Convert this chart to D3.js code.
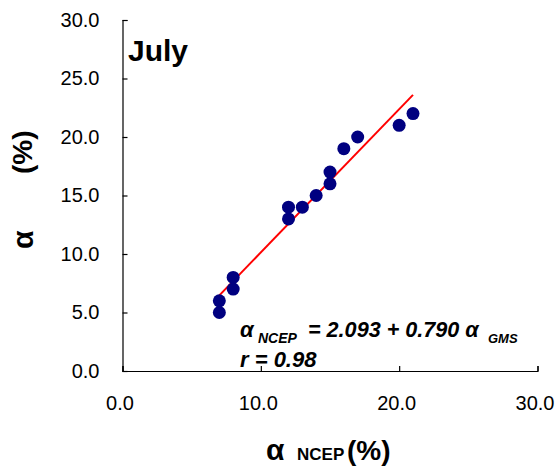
<!DOCTYPE html>
<html>
<head>
<meta charset="utf-8">
<script src="https://cdn.jsdelivr.net/npm/d3@7/dist/d3.min.js"></script>
<style>
  html, body { margin: 0; padding: 0; background: #fff; }
  svg { display: block; font-family: "Liberation Sans", Arial, sans-serif; }
</style>
</head>
<body>
<svg id="chart" width="558" height="470"></svg>
<script>
// Data (alpha GMS on x, alpha NCEP on y, %)
const xValues = [7, 7, 8, 8, 12, 12, 13, 14, 15, 15, 16, 17, 20, 21];
const yValues = [6, 5, 8, 7, 14, 13, 14, 15, 17, 16, 19, 20, 21, 22];
const tickValues = [0, 10, 20, 30];
const yTickValues = [0, 5, 10, 15, 20, 25, 30];
const monthLabel = "July";
const equationLabel = ["= 2.093 + 0.790 α"];
const rLabel = "r = 0.98";

const svg = d3.select("#chart");
const x = d3.scaleLinear().domain([0, 30]).range([122.5, 537.5]);
const y = d3.scaleLinear().domain([0, 30]).range([371, 20]);

// Axes
const xAxis = d3.axisBottom(x).tickValues(tickValues).tickSizeInner(-5).tickSizeOuter(-5).tickFormat(d3.format(".1f"));
const yAxis = d3.axisLeft(y).tickValues(yTickValues).tickSizeInner(-5).tickSizeOuter(-5).tickFormat(d3.format(".1f"));

const gx = svg.append("g").attr("transform", `translate(0,${y(0)})`).call(xAxis);
gx.select(".domain").attr("stroke", "#000").attr("stroke-width", 1.2);
gx.selectAll(".tick line").attr("stroke", "#000").attr("stroke-width", 1.2);
gx.selectAll(".tick text").attr("font-size", 20).attr("fill", "#000")
  .attr("font-family", "Liberation Sans, Arial, sans-serif")
  .attr("y", 25).attr("dy", "0.71em").attr("dx", -3);

const gy = svg.append("g").attr("transform", `translate(${x(0)},0)`).call(yAxis);
gy.select(".domain").attr("stroke", "#000").attr("stroke-width", 1.2);
gy.selectAll(".tick line").attr("stroke", "#000").attr("stroke-width", 1.2);
gy.selectAll(".tick text").attr("font-size", 20).attr("fill", "#000")
  .attr("font-family", "Liberation Sans, Arial, sans-serif")
  .attr("x", -23).attr("dy", "0.3em");

// Least squares fit of y on x
const n = xValues.length;
const mx = d3.mean(xValues), my = d3.mean(yValues);
let sxy = 0, sxx = 0;
for (let i = 0; i < n; i++) { sxy += (xValues[i] - mx) * (yValues[i] - my); sxx += (xValues[i] - mx) ** 2; }
const slope = sxy / sxx, intercept = my - slope * mx;
const xExt = d3.extent(xValues);
svg.append("path")
  .datum(xExt.map(v => [v, intercept + slope * v]))
  .attr("d", d3.line().x(d => x(d[0])).y(d => y(d[1])))
  .attr("stroke", "#ff0000").attr("stroke-width", 2).attr("fill", "none");

// Points
svg.append("g").selectAll("circle")
  .data(xValues.map((v, i) => [v, yValues[i]]))
  .join("circle")
  .attr("cx", d => x(d[0])).attr("cy", d => y(d[1])).attr("r", 6.5)
  .attr("fill", "#000080");

// Month label
svg.append("text").attr("x", 128).attr("y", 61).attr("font-size", 30).attr("font-weight", "bold")
  .attr("fill", "#000").text(monthLabel);

// Equation annotation
const eq = svg.append("g").attr("font-weight", "bold").attr("font-style", "italic").attr("fill", "#000");
eq.append("text").attr("x", 240).attr("y", 337).attr("font-size", 22).text("α");
eq.append("text").attr("x", 258).attr("y", 343).attr("font-size", 14).text("NCEP");
eq.append("text").attr("x", 308).attr("y", 337).attr("font-size", 21.6).text(equationLabel[0]);
eq.append("text").attr("x", 488).attr("y", 343).attr("font-size", 13).text("GMS");
eq.append("text").attr("x", 240).attr("y", 367).attr("font-size", 22).text(rLabel);

// X axis title
const xt = svg.append("g").attr("font-weight", "bold").attr("fill", "#000");
xt.append("text").attr("x", 266).attr("y", 460).attr("font-size", 30).text("α");
xt.append("text").attr("x", 297).attr("y", 460).attr("font-size", 17).text("NCEP");
xt.append("text").attr("x", 347).attr("y", 460).attr("font-size", 28).text("(%)");

// Y axis title (rotated)
const yt = svg.append("g").attr("font-weight", "bold").attr("fill", "#000");
yt.append("text").attr("transform", "translate(33,249) rotate(-90)").attr("font-size", 30).text("α");
yt.append("text").attr("transform", "translate(32,174) rotate(-90)").attr("font-size", 28).text("(%)");
</script>
</body>
</html>
